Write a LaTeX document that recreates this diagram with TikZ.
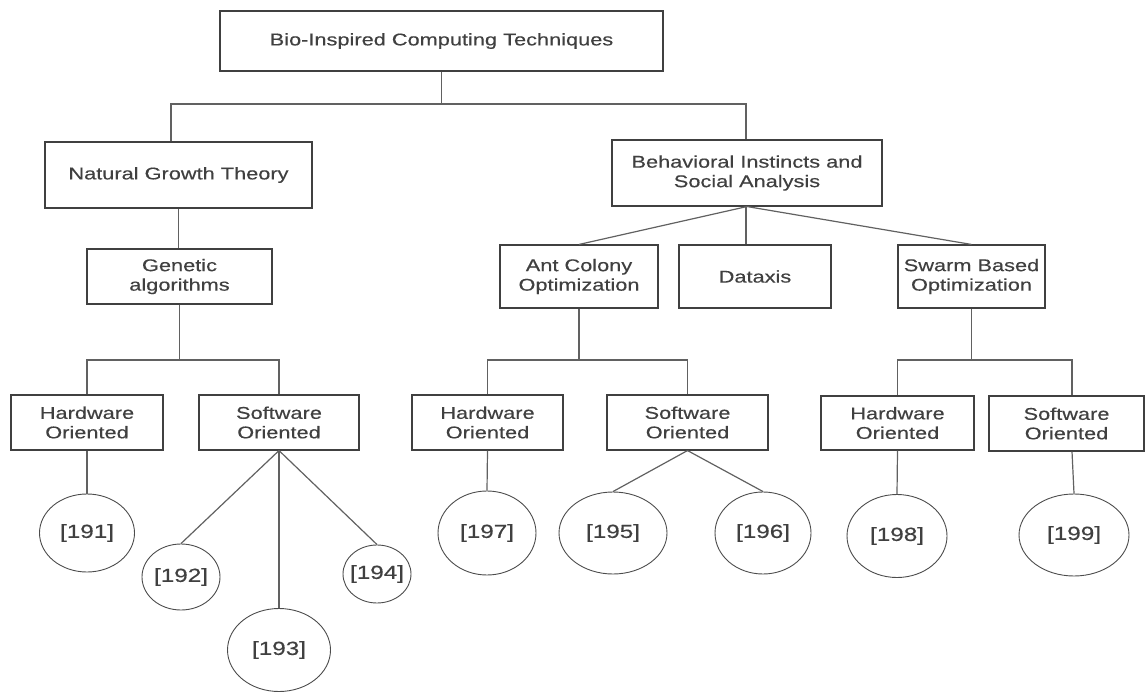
\documentclass[tikz,border=0pt]{standalone}
\usepackage{fontspec}
\newfontfamily\labfont{Liberation Sans}[FakeStretch=1.28, FakeBold=0.35]
\usetikzlibrary{shapes.geometric}

\tikzset{
  box/.style={draw=black!75, line width=1.1pt, fill=white, align=center,
    inner sep=0pt, text=black!75,
    font=\labfont\fontsize{17}{19.5}\selectfont},
  ref/.style={draw=black!70, line width=0.9pt, ellipse, inner sep=0pt,
    text=black!75, font=\labfont\fontsize{19}{21}\selectfont},
  link/.style={draw=black!62, line width=1.2pt},
}
\newcommand{\reflabel}[1]{\makebox[0pt]{#1}}

\begin{document}
\begin{tikzpicture}[x=1pt, y=-1pt]
\useasboundingbox (0,0) rectangle (1145,692);

% category boxes
\node[box, minimum width=443, minimum height=60] (top) at (441.5,41) {Bio-Inspired Computing Techniques};
\node[box, minimum width=267, minimum height=66] (ngt) at (178.5,175) {Natural Growth Theory};
\node[box, minimum width=270, minimum height=66] (bis) at (747,173) {Behavioral Instincts and\\Social Analysis};
\node[box, minimum width=185, minimum height=55] (ga)  at (179.5,276.5) {Genetic\\algorithms};
\node[box, minimum width=158, minimum height=63] (aco) at (579,276.5) {Ant Colony\\Optimization};
\node[box, minimum width=152, minimum height=63] (dat) at (755,276.5) {Dataxis};
\node[box, minimum width=147, minimum height=63] (swo) at (971.5,276.5) {Swarm Based\\Optimization};

% hardware / software boxes
\node[box, minimum width=152, minimum height=55] (hw1) at (87,422.5) {Hardware\\Oriented};
\node[box, minimum width=160, minimum height=55] (sw1) at (279,422.5) {Software\\Oriented};
\node[box, minimum width=151, minimum height=55] (hw2) at (487.5,422.5) {Hardware\\Oriented};
\node[box, minimum width=161, minimum height=55] (sw2) at (687.5,422.5) {Software\\Oriented};
\node[box, minimum width=153, minimum height=54] (hw3) at (897.5,423) {Hardware\\Oriented};
\node[box, minimum width=155, minimum height=55] (sw3) at (1066.5,423.5) {Software\\Oriented};

% reference ellipses
\node[ref, minimum width=95,  minimum height=78] (c191) at (87,533)  {\reflabel{[191]}};
\node[ref, minimum width=78,  minimum height=66] (c192) at (181,577) {\reflabel{[192]}};
\node[ref, minimum width=103, minimum height=83] (c193) at (279,650) {\reflabel{[193]}};
\node[ref, minimum width=68,  minimum height=58] (c194) at (377,574) {\reflabel{[194]}};
\node[ref, minimum width=98,  minimum height=84] (c197) at (487,533) {\reflabel{[197]}};
\node[ref, minimum width=108, minimum height=82] (c195) at (613,533) {\reflabel{[195]}};
\node[ref, minimum width=96,  minimum height=82] (c196) at (763,533) {\reflabel{[196]}};
\node[ref, minimum width=100, minimum height=83] (c198) at (897,536) {\reflabel{[198]}};
\node[ref, minimum width=110, minimum height=82] (c199) at (1074,535) {\reflabel{[199]}};

% bus junctions
\coordinate (j0) at (441.5,104);
\coordinate (j1) at (178,360);
\coordinate (j2) at (579,360);
\coordinate (j3) at (972,360);

% top level
\draw[link] (top.south) -- (j0);
\draw[link] ([xshift=-7.5]ngt.north) |- (j0) -| ([xshift=-1]bis.north);

% natural growth branch
\draw[link] (ngt.south) -- (ngt.south |- ga.north);
\draw[link] (ga.south) -- (ga.south |- j1);
\draw[link] (hw1.north) |- (j1) -| (sw1.north);
\draw[link] (hw1.south) -- (c191.north);
\draw[link] (sw1.south) -- (c192.north);
\draw[link] (sw1.south) -- (c193.north);
\draw[link] (sw1.south) -- (c194.north);

% behavioural branch
\draw[link] (bis.south) -- (aco.north);
\draw[link] ([xshift=-1]bis.south) -- ([xshift=-1]bis.south |- dat.north);
\draw[link] (bis.south) -- (swo.north);

\draw[link] (aco.south) -- (j2);
\draw[link] (hw2.north) |- (j2) -| (sw2.north);
\draw[link] (hw2.south) -- (c197.north);
\draw[link] (sw2.south) -- (c195.north);
\draw[link] (sw2.south) -- (c196.north);

\draw[link] (swo.south) -- (swo.south |- j3);
\draw[link] (hw3.north) |- (j3) -| ([xshift=5.5]sw3.north);
\draw[link] (hw3.south) -- (c198.north);
\draw[link] ([xshift=5.5]sw3.south) -- (c199.north);
\end{tikzpicture}
\end{document}
